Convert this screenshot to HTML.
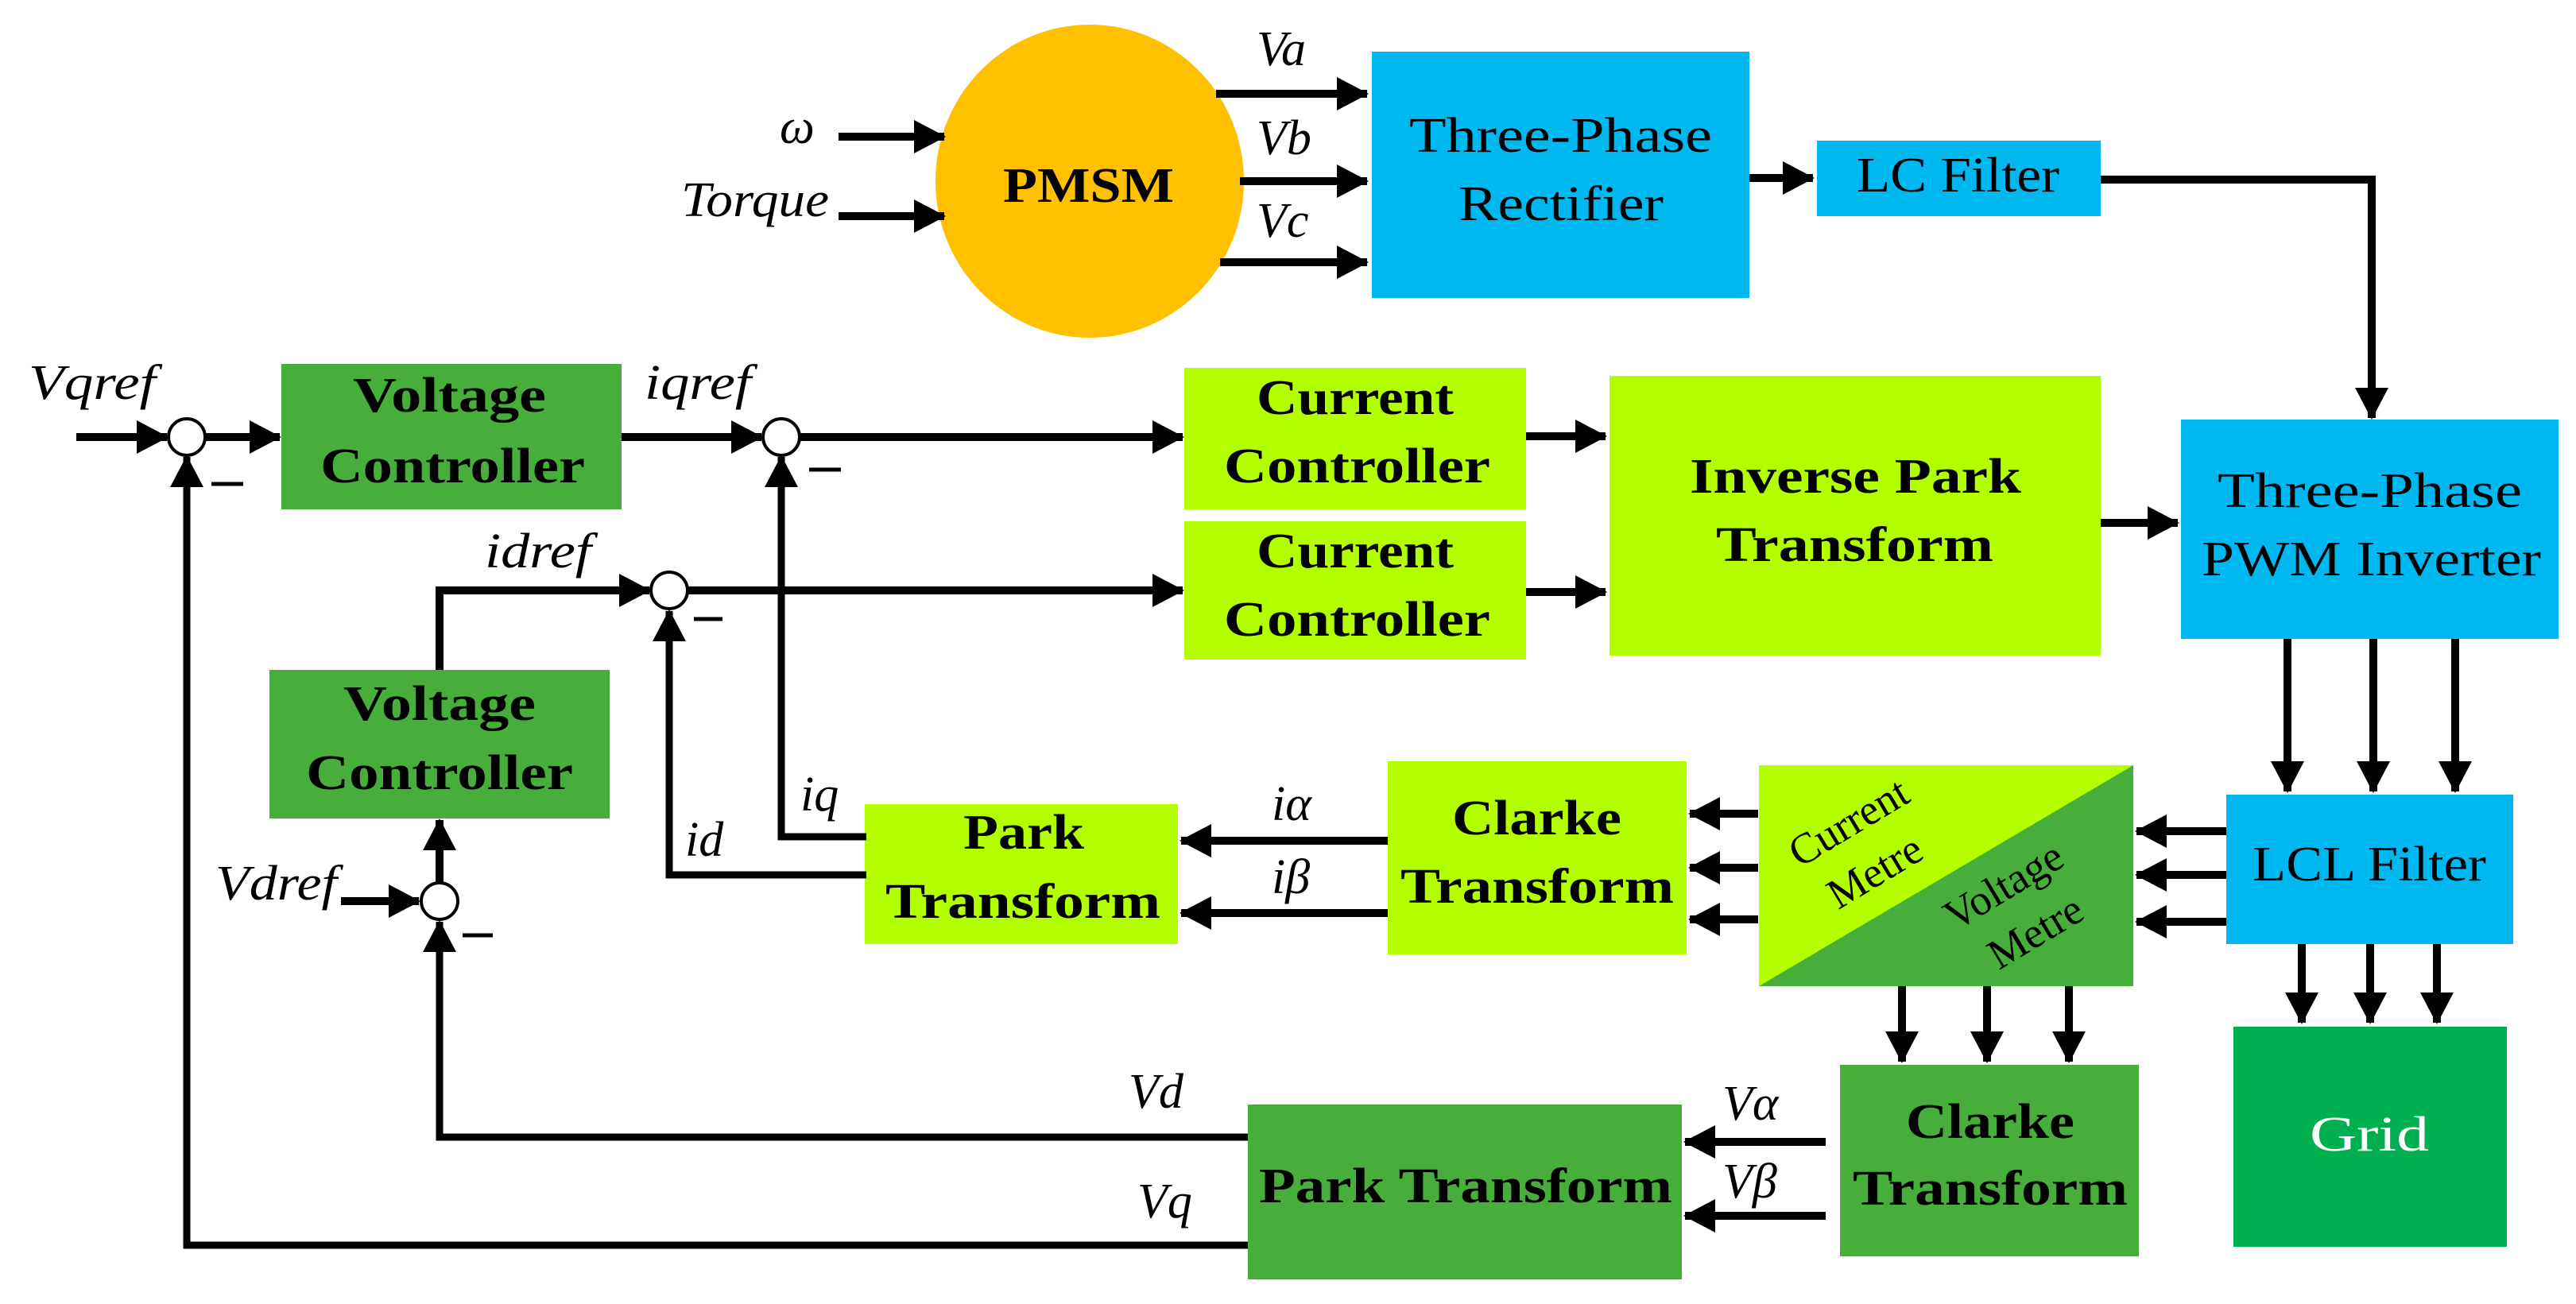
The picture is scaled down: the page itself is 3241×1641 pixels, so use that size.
<!DOCTYPE html>
<html><head><meta charset="utf-8"><style>
html,body{margin:0;padding:0;background:#fff;}
svg{display:block;}
.b{font-family:"Liberation Serif",serif;font-weight:bold;font-size:62px;fill:#000;}
.i{font-family:"Liberation Serif",serif;font-style:italic;font-size:62px;fill:#000;}
.m{font-family:"Liberation Serif",serif;font-size:54px;fill:#000;}
</style></head><body>
<svg width="3241" height="1641" viewBox="0 0 3241 1641" xmlns="http://www.w3.org/2000/svg">
<defs>
<marker id="a" markerUnits="userSpaceOnUse" markerWidth="40" markerHeight="42" refX="38" refY="21" orient="auto"><path d="M0,0 L40,21 L0,42 z" fill="#000"/></marker>
</defs>
<rect width="3241" height="1641" fill="#fff"/>

<ellipse cx="1371" cy="228" rx="194" ry="197" fill="#FFC000"/>
<rect x="1726" y="65" width="475" height="310" fill="#00B8F0"/>
<rect x="2286" y="177" width="357" height="95" fill="#00B8F0"/>
<rect x="2744" y="528" width="475" height="276" fill="#00B8F0"/>
<rect x="2801" y="1000" width="361" height="188" fill="#00B8F0"/>
<rect x="2810" y="1292" width="344" height="277" fill="#00B050"/>
<rect x="354" y="458" width="428" height="183" fill="#47AE3C"/>
<rect x="339" y="843" width="428" height="187" fill="#47AE3C"/>
<rect x="1490" y="463" width="430" height="178" fill="#B3FF00"/>
<rect x="1490" y="656" width="430" height="174" fill="#B3FF00"/>
<rect x="2025" y="473" width="618" height="352" fill="#B3FF00"/>
<rect x="1088" y="1012" width="394" height="176" fill="#B3FF00"/>
<rect x="1746" y="958" width="376" height="243" fill="#B3FF00"/>
<rect x="2213" y="963" width="471" height="278" fill="#47AE3C"/>
<polygon points="2213,963 2684,963 2213,1241" fill="#B3FF00"/>
<rect x="2315" y="1340" width="376" height="241" fill="#47AE3C"/>
<rect x="1570" y="1390" width="546" height="220" fill="#47AE3C"/>

<text class="b" x="1262" y="254" font-size="68" textLength="215" lengthAdjust="spacingAndGlyphs">PMSM</text>
<text class="b" style="font-weight:normal" x="1773" y="191" textLength="381" lengthAdjust="spacingAndGlyphs">Three-Phase</text>
<text class="b" style="font-weight:normal" x="1835" y="277" textLength="258" lengthAdjust="spacingAndGlyphs">Rectifier</text>
<text class="b" style="font-weight:normal" x="2336" y="241" textLength="255" lengthAdjust="spacingAndGlyphs">LC Filter</text>
<text class="b" style="font-weight:normal" x="2790" y="638" textLength="383" lengthAdjust="spacingAndGlyphs">Three-Phase</text>
<text class="b" style="font-weight:normal" x="2770" y="724" textLength="427" lengthAdjust="spacingAndGlyphs">PWM Inverter</text>
<text class="b" style="font-weight:normal" x="2834" y="1108" textLength="294" lengthAdjust="spacingAndGlyphs">LCL Filter</text>
<text class="b" style="font-weight:normal;fill:#fff" x="2906" y="1448" textLength="150" lengthAdjust="spacingAndGlyphs">Grid</text>
<text class="b" x="444" y="518" textLength="243" lengthAdjust="spacingAndGlyphs">Voltage</text>
<text class="b" x="403" y="607" textLength="333" lengthAdjust="spacingAndGlyphs">Controller</text>
<text class="b" x="432" y="906" textLength="242" lengthAdjust="spacingAndGlyphs">Voltage</text>
<text class="b" x="385" y="993" textLength="336" lengthAdjust="spacingAndGlyphs">Controller</text>
<text class="b" x="1581" y="521" textLength="248" lengthAdjust="spacingAndGlyphs">Current</text>
<text class="b" x="1540" y="607" textLength="335" lengthAdjust="spacingAndGlyphs">Controller</text>
<text class="b" x="1581" y="714" textLength="248" lengthAdjust="spacingAndGlyphs">Current</text>
<text class="b" x="1540" y="800" textLength="335" lengthAdjust="spacingAndGlyphs">Controller</text>
<text class="b" x="2126" y="620" textLength="417" lengthAdjust="spacingAndGlyphs">Inverse Park</text>
<text class="b" x="2159" y="706" textLength="349" lengthAdjust="spacingAndGlyphs">Transform</text>
<text class="b" x="1212" y="1068" textLength="152" lengthAdjust="spacingAndGlyphs">Park</text>
<text class="b" x="1114" y="1155" textLength="346" lengthAdjust="spacingAndGlyphs">Transform</text>
<text class="b" x="1827" y="1050" textLength="213" lengthAdjust="spacingAndGlyphs">Clarke</text>
<text class="b" x="1762" y="1136" textLength="344" lengthAdjust="spacingAndGlyphs">Transform</text>
<text class="b" x="2398" y="1432" textLength="212" lengthAdjust="spacingAndGlyphs">Clarke</text>
<text class="b" x="2331" y="1516" textLength="346" lengthAdjust="spacingAndGlyphs">Transform</text>
<text class="b" x="1584" y="1513" textLength="520" lengthAdjust="spacingAndGlyphs">Park Transform</text>
<text class="m" text-anchor="middle" transform="translate(2335,1050) rotate(-31)">Current</text>
<text class="m" text-anchor="middle" transform="translate(2368,1112) rotate(-31)">Metre</text>
<text class="m" text-anchor="middle" transform="translate(2530,1130) rotate(-31)">Voltage</text>
<text class="m" text-anchor="middle" transform="translate(2570,1188) rotate(-31)">Metre</text>

<text class="i" x="981" y="180" font-size="72">ω</text>
<text class="i" x="857" y="272" textLength="186" lengthAdjust="spacingAndGlyphs">Torque</text>
<text class="i" x="1581" y="82">Va</text>
<text class="i" x="1581" y="194">Vb</text>
<text class="i" x="1581" y="298">Vc</text>
<text class="i" x="36" y="502" textLength="160" lengthAdjust="spacingAndGlyphs">Vqref</text>
<text class="i" x="811" y="502" textLength="134" lengthAdjust="spacingAndGlyphs">iqref</text>
<text class="i" x="610" y="714" textLength="134" lengthAdjust="spacingAndGlyphs">idref</text>
<text class="i" x="271" y="1132" textLength="153" lengthAdjust="spacingAndGlyphs">Vdref</text>
<text class="i" x="1007" y="1020">iq</text>
<text class="i" x="862" y="1077">id</text>
<text class="i" x="1600" y="1032">iα</text>
<text class="i" x="1600" y="1124">iβ</text>
<text class="i" x="1420" y="1394">Vd</text>
<text class="i" x="1431" y="1532">Vq</text>
<text class="i" x="2167" y="1409">Vα</text>
<text class="i" x="2167" y="1507">Vβ</text>

<g stroke="#000" stroke-width="5">
<line x1="266" y1="609" x2="306" y2="609"/>
<line x1="1018" y1="591" x2="1058" y2="591"/>
<line x1="873" y1="779" x2="909" y2="779"/>
<line x1="582" y1="1177" x2="620" y2="1177"/>
</g>

<g stroke="#000" stroke-width="10" fill="none">
<line x1="1055" y1="172" x2="1188" y2="172" marker-end="url(#a)"/>
<line x1="1055" y1="272" x2="1188" y2="272" marker-end="url(#a)"/>
<line x1="1530" y1="118" x2="1720" y2="118" marker-end="url(#a)"/>
<line x1="1560" y1="228" x2="1720" y2="228" marker-end="url(#a)"/>
<line x1="1535" y1="330" x2="1720" y2="330" marker-end="url(#a)"/>
<line x1="2201" y1="224" x2="2281" y2="224" marker-end="url(#a)"/>
<polyline points="2643,226 2984,226 2984,526" marker-end="url(#a)"/>
<line x1="96" y1="550" x2="210" y2="550" marker-end="url(#a)"/>
<line x1="258" y1="550" x2="352" y2="550" marker-end="url(#a)"/>
<line x1="782" y1="550" x2="958" y2="550" marker-end="url(#a)"/>
<line x1="1007" y1="550" x2="1488" y2="550" marker-end="url(#a)"/>
<polyline points="553,843 553,743 817,743" marker-end="url(#a)"/>
<line x1="866" y1="743" x2="1488" y2="743" marker-end="url(#a)"/>
<line x1="1920" y1="549" x2="2020" y2="549" marker-end="url(#a)"/>
<line x1="1920" y1="745" x2="2020" y2="745" marker-end="url(#a)"/>
<line x1="2643" y1="658" x2="2740" y2="658" marker-end="url(#a)"/>
<line x1="2878" y1="804" x2="2878" y2="996" marker-end="url(#a)"/>
<line x1="2986" y1="804" x2="2986" y2="996" marker-end="url(#a)"/>
<line x1="3089" y1="804" x2="3089" y2="996" marker-end="url(#a)"/>
<line x1="2801" y1="1046" x2="2688" y2="1046" marker-end="url(#a)"/>
<line x1="2801" y1="1101" x2="2688" y2="1101" marker-end="url(#a)"/>
<line x1="2801" y1="1160" x2="2688" y2="1160" marker-end="url(#a)"/>
<line x1="2896" y1="1188" x2="2896" y2="1287" marker-end="url(#a)"/>
<line x1="2982" y1="1188" x2="2982" y2="1287" marker-end="url(#a)"/>
<line x1="3066" y1="1188" x2="3066" y2="1287" marker-end="url(#a)"/>
<line x1="2212" y1="1024" x2="2126" y2="1024" marker-end="url(#a)"/>
<line x1="2212" y1="1092" x2="2126" y2="1092" marker-end="url(#a)"/>
<line x1="2212" y1="1157" x2="2126" y2="1157" marker-end="url(#a)"/>
<line x1="2393" y1="1241" x2="2393" y2="1336" marker-end="url(#a)"/>
<line x1="2500" y1="1241" x2="2500" y2="1336" marker-end="url(#a)"/>
<line x1="2603" y1="1241" x2="2603" y2="1336" marker-end="url(#a)"/>
<line x1="1746" y1="1058" x2="1486" y2="1058" marker-end="url(#a)"/>
<line x1="1746" y1="1149" x2="1486" y2="1149" marker-end="url(#a)"/>
<line x1="2297" y1="1437" x2="2120" y2="1437" marker-end="url(#a)"/>
<line x1="2297" y1="1530" x2="2120" y2="1530" marker-end="url(#a)"/>
<line x1="429" y1="1134" x2="527" y2="1134" marker-end="url(#a)"/>
<line x1="553" y1="1110" x2="553" y2="1032" marker-end="url(#a)"/>
</g>
<g stroke="#000" stroke-width="9" fill="none">
<polyline points="1570,1567 235,1567 235,575" marker-end="url(#a)"/>
<polyline points="1570,1431 553,1431 553,1160" marker-end="url(#a)"/>
<polyline points="1090,1053 983,1053 983,575" marker-end="url(#a)"/>
<polyline points="1090,1101 842,1101 842,769" marker-end="url(#a)"/>
</g>

<g fill="#fff" stroke="#000" stroke-width="4">
<circle cx="235" cy="550" r="23"/>
<circle cx="983" cy="550" r="23"/>
<circle cx="842" cy="743" r="23"/>
<circle cx="553" cy="1134" r="23"/>
</g>
</svg>
</body></html>
